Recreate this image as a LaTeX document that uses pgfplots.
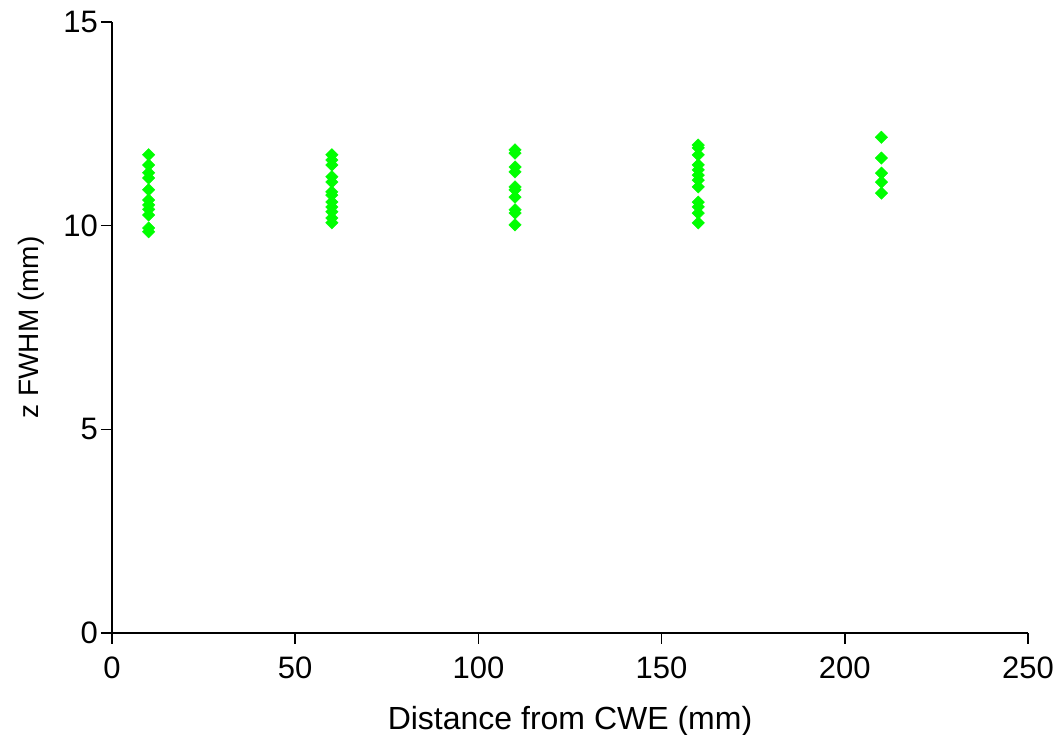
\documentclass[border=0pt]{standalone}
\usepackage{pgfplots}
\pgfplotsset{compat=1.18}
\usepackage{fontspec}
\setmainfont{Liberation Sans}
\definecolor{ptgreen}{RGB}{0,255,0}
\begin{document}
\begin{tikzpicture}
\begin{axis}[
  at={(0,0)}, anchor=south west,
  scale only axis, width=916pt, height=611pt,
  xmin=0, xmax=250, ymin=0, ymax=15,
  axis x line*=bottom, axis y line*=left,
  axis line style={line width=1.6pt, black},
  xtick={0,50,100,150,200,250}, ytick={0,5,10,15},
  tick align=outside, major tick length=11pt,
  every tick/.style={black, line width=1.6pt},
  /pgf/number format/assume math mode=true,
  tick label style={font=\fontsize{31}{36}\selectfont},
  xticklabel style={inner sep=2pt, yshift=-11pt},
  yticklabel style={inner sep=3pt},
  xlabel={Distance from CWE (mm)},
  ylabel={z FWHM (mm)},
  xlabel style={font=\fontsize{32}{36}\selectfont, inner sep=0pt, yshift=-25pt},
  ylabel style={font=\fontsize{28}{32}\selectfont, inner sep=0pt, yshift=16pt},
  clip=false,
]
\addplot[only marks, mark=square*, mark size=4.4pt, mark options={rotate=45, fill=ptgreen, draw=ptgreen}] coordinates {
(10,11.74) (10,11.49) (10,11.30) (10,11.17) (10,10.88) (10,10.63) (10,10.51) (10,10.40) (10,10.26) (10,9.94) (10,9.85)
(60,11.74) (60,11.61) (60,11.49) (60,11.20) (60,11.07) (60,10.83) (60,10.75) (60,10.58) (60,10.46) (60,10.34) (60,10.19) (60,10.07)
(110,11.86) (110,11.78) (110,11.44) (110,11.32) (110,10.95) (110,10.88) (110,10.70) (110,10.39) (110,10.31) (110,10.02)
(160,11.98) (160,11.91) (160,11.74) (160,11.49) (160,11.37) (160,11.24) (160,11.12) (160,10.95) (160,10.58) (160,10.46) (160,10.31) (160,10.07)
(210,12.17) (210,11.66) (210,11.29) (210,11.07) (210,10.80)
};
\end{axis}
\pgfresetboundingbox
\path[use as bounding box] (-112pt,-102pt) rectangle (948pt,633pt);
\end{tikzpicture}
\end{document}
